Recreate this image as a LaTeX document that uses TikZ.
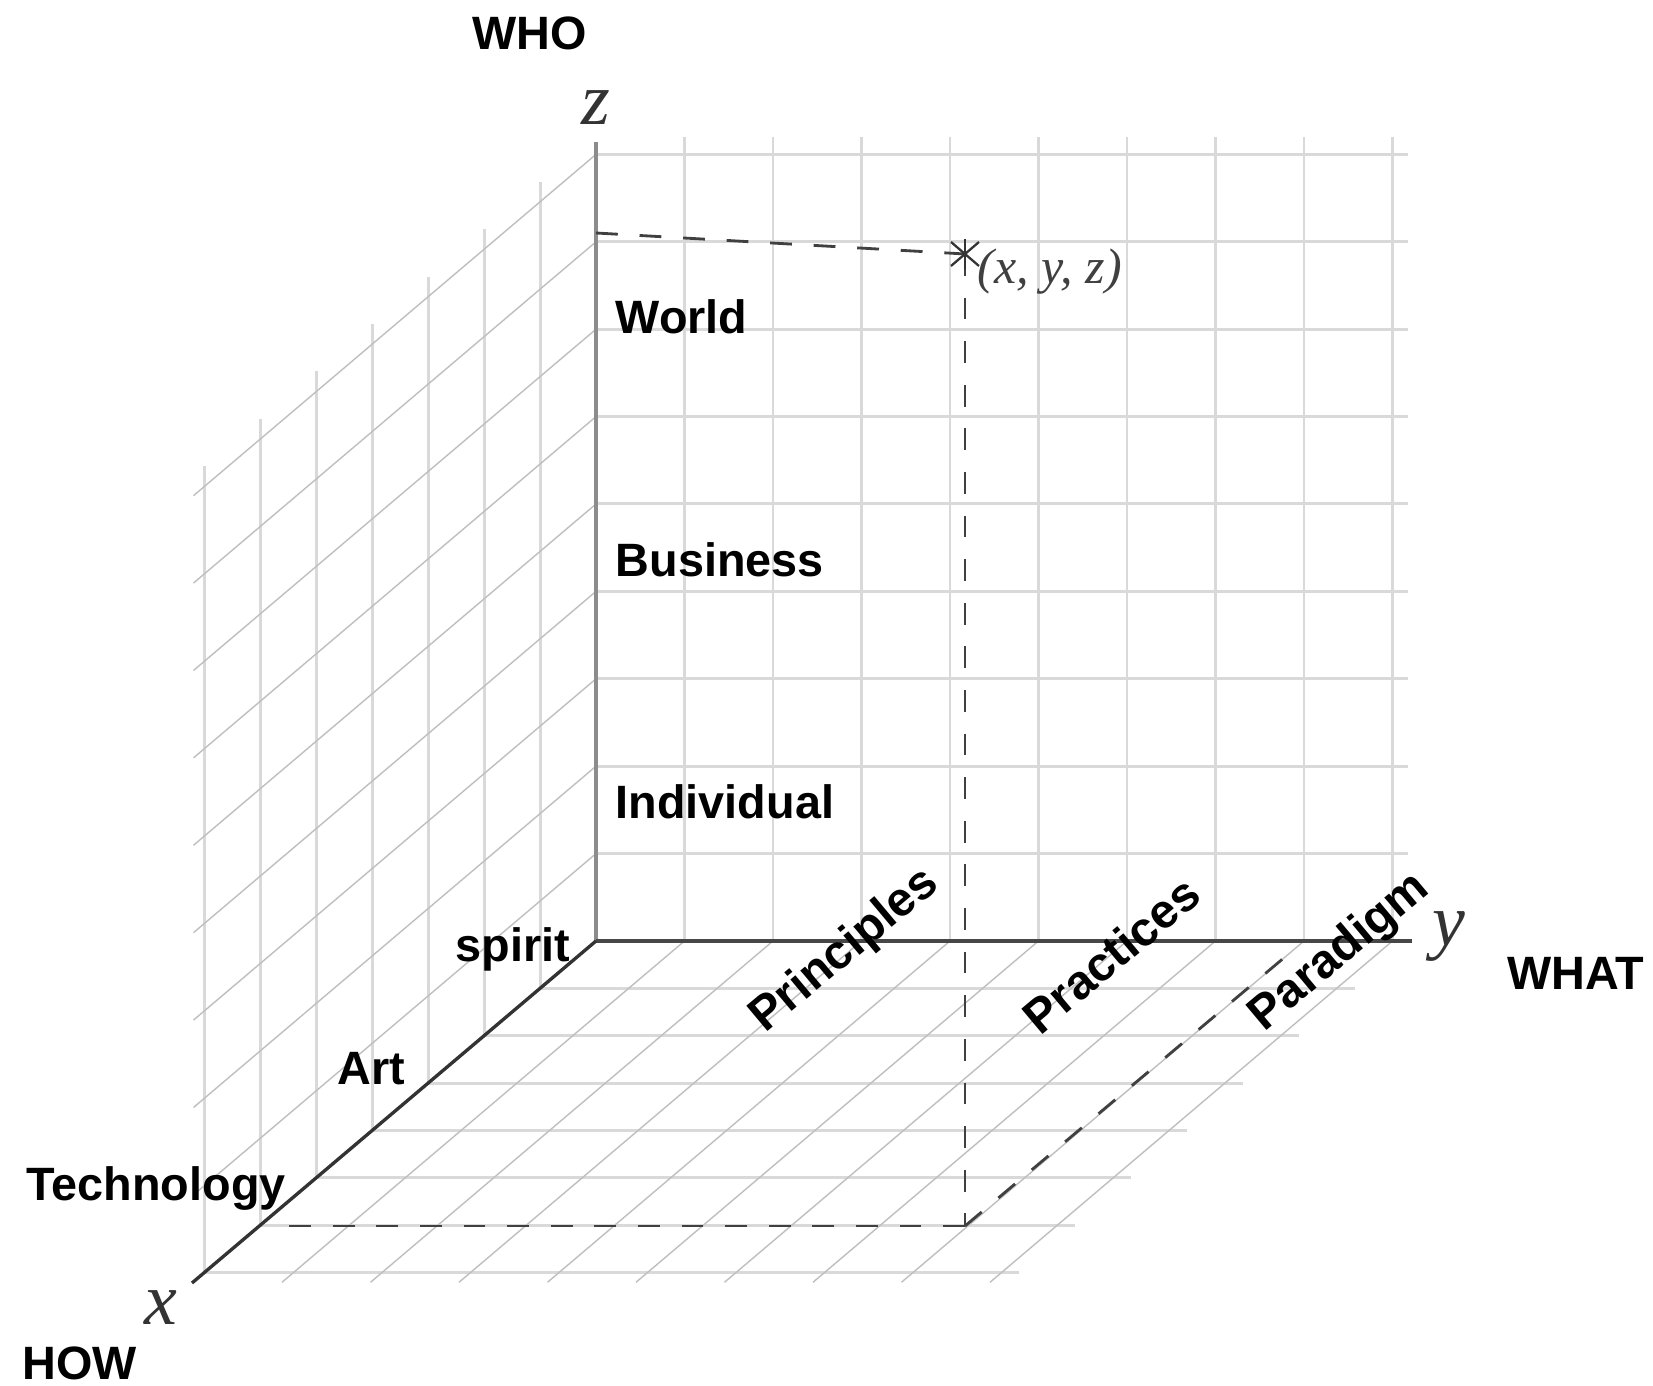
\documentclass[tikz,border=0pt]{standalone}
\usepackage{fontspec}
\setmainfont{Liberation Sans}
\newfontfamily\serfont{Liberation Serif}
\begin{document}
\begin{tikzpicture}[x=0.01cm,y=-0.01cm,
  gridA/.style={draw=black!15, line width=0.85pt},
  gridB/.style={draw=black!25, line width=0.4pt},
  zax/.style={draw=black!45, line width=1.2pt},
  yax/.style={draw=black!72, line width=0.95pt},
  xax/.style={draw=black!80, line width=0.95pt},
  dsh/.style={draw=black!75, line width=0.8pt, dash pattern=on 6.2pt off 6.2pt},
  mk/.style={draw=black!80, line width=0.65pt},
  lab/.style={font=\fontsize{13.3}{16}\selectfont\bfseries, text=black, inner sep=0pt},
  rlab/.style={lab, font=\fontsize{13.6}{16}\selectfont\bfseries, rotate=40},
  axl/.style={font=\serfont\itshape\fontsize{21}{24}\selectfont, text=black!80, inner sep=0pt},
  ptl/.style={font=\serfont\itshape\fontsize{14.2}{17}\selectfont, text=black!75, inner sep=0pt}
]
\useasboundingbox (0,0) rectangle (1653,1386);
\fill[white] (0,0) rectangle (1653,1386);

% back wall (y-z plane)
\foreach \j in {1,...,9} \draw[gridA] ({596+88.5*\j},941) -- ({596+88.5*\j},137);
\foreach \m in {1,...,9} \draw[gridA] (596,{941-87.4*\m}) -- (1408,{941-87.4*\m});
% floor (x-y plane)
\foreach \k in {1,...,7} \draw[gridA] ({596-55.9*\k},{941+47.4*\k}) -- ({596-55.9*\k+88.5*9+18},{941+47.4*\k});
\foreach \j in {1,...,9} \draw[gridB] ({596+88.5*\j},941) -- ({596+88.5*\j-55.9*7.2},{941+47.4*7.2});
% left wall (x-z plane)
\foreach \k in {1,...,7} \draw[gridA] ({596-55.9*\k},{941+47.4*\k}) -- ({596-55.9*\k},{941+47.4*\k-87.4*9-20});
\foreach \m in {1,...,9} \draw[gridB] (596,{941-87.4*\m}) -- ({596-55.9*7.2},{941-87.4*\m+47.4*7.2});

% axes
\coordinate (O) at (596,941);
\coordinate (zend) at (596,142);
\coordinate (yend) at (1412,941);
\coordinate (xend) at (192,1283);
\draw[zax] (O) -- (zend);
\draw[yax] (O) -- (yend);
\draw[xax] (O) -- (xend);

% dashed projections
\coordinate (zA) at (596,233);
\coordinate (P) at (965,254);
\coordinate (Q) at (965,1226);
\coordinate (Xs) at (261,1226);
\coordinate (Ys) at (1304,941);
\draw[dsh] (zA) -- (P);
\draw[dsh] (P) -- (Q);
\draw[dsh, shorten >=5.5pt] (Q) -- (Xs);
\draw[dsh, shorten >=6pt] (Q) -- (Ys);
% marker
\draw[mk] (P) ++(0,-15) -- ++(0,30);
\draw[mk] (P) ++(-14,-12) -- ++(28,24);
\draw[mk] (P) ++(-14,12) -- ++(28,-24);

% labels
\node[lab, anchor=base west] (who) at (472,50) {WHO};
\node[lab, anchor=base west] (what) at (1507,990) {WHAT};
\node[lab, anchor=base west] (how) at (22,1380) {HOW};
\node[lab, anchor=base west] (world) at (615,334) {World};
\node[lab, anchor=base west] (bus) at (615,577) {Business};
\node[lab, anchor=base west] (ind) at (615,819) {Individual};
\node[lab, anchor=base west] (spirit) at (455,962) {spirit};
\node[lab, anchor=base west] (art) at (337,1085) {Art};
\node[lab, anchor=base west] (tech) at (26,1201) {Technology};
\node[rlab] (prin) at (845,951) {Principles};
\node[rlab] (prac) at (1111,955) {Practices};
\node[rlab] (para) at (1340,953) {Paradigm};

\node[axl, anchor=base] (zl) at (596,125) {z};
\node[axl, anchor=base] (yl) at (1449,946) {y};
\node[axl, anchor=base] (xl) at (161,1325) {x};
\node[ptl, anchor=base west] (pl) at (977,284) {(x, y, z)};
\end{tikzpicture}
\end{document}
